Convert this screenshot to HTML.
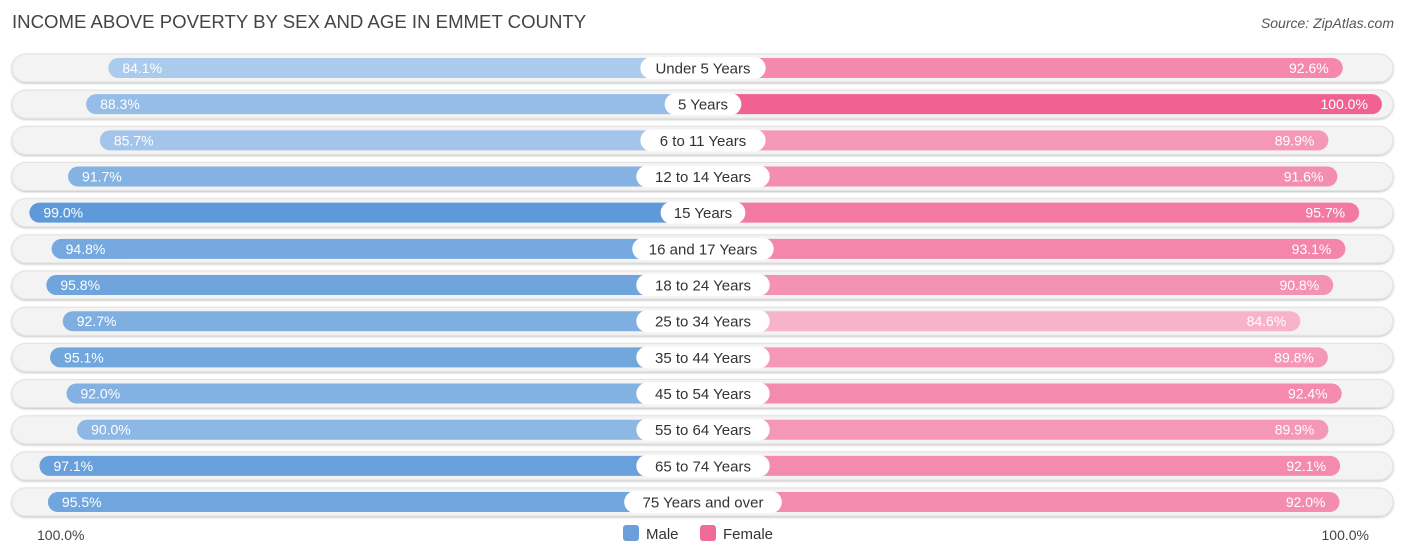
<!DOCTYPE html>
<html><head><meta charset="utf-8"><style>
body{margin:0;width:1406px;height:559px;background:#fff;font-family:"Liberation Sans",sans-serif;position:relative;overflow:hidden}
.t{position:absolute;white-space:nowrap}
</style></head><body>
<div class="t" style="left:12px;top:11px;font-size:18.6px;color:#444">INCOME ABOVE POVERTY BY SEX AND AGE IN EMMET COUNTY</div>
<div class="t" style="right:12px;top:15px;font-size:14px;color:#555;font-style:italic">Source: ZipAtlas.com</div>
<svg id="c" width="1406" height="559" style="position:absolute;left:0;top:0;font-family:'Liberation Sans',sans-serif"></svg>
<script>
const categories=["Under 5 Years","5 Years","6 to 11 Years","12 to 14 Years","15 Years","16 and 17 Years","18 to 24 Years","25 to 34 Years","35 to 44 Years","45 to 54 Years","55 to 64 Years","65 to 74 Years","75 Years and over"];
const maleValues=[84.1,88.3,85.7,91.7,99.0,94.8,95.8,92.7,95.1,92.0,90.0,97.1,95.5];
const femaleValues=[92.6,100.0,89.9,91.6,95.7,93.1,90.8,84.6,89.8,92.4,89.9,92.1,92.0];
const axisLabels=["100.0%","100.0%"];
const svg=document.getElementById('c');const NS="http://www.w3.org/2000/svg";
const cx=703,k=5.3,v0=-28.1,y0=68,step=36.17;
function len(v){return (v-v0)*k}
function xL(v){return cx-len(v)}function xR(v){return cx+len(v)}
function mix(a,b,t){t=Math.max(0,Math.min(1,t));return 'rgb('+a.map((c,i)=>Math.round(c+(b[i]-c)*t)).join(',')+')'}
function mk(tag,attrs,parent){const e=document.createElementNS(NS,tag);for(const a in attrs)e.setAttribute(a,attrs[a]);(parent||svg).appendChild(e);return e}
const defs=mk('defs',{});
const f=mk('filter',{id:'sh',x:'-5%',y:'-30%',width:'110%',height:'160%'},defs);
mk('feDropShadow',{dx:0,dy:1,stdDeviation:1,'flood-color':'#000','flood-opacity':0.25},f);
categories.forEach((cat,i)=>{
 const y=y0+i*step;
 const bg=mk('rect',{x:12,y:y-14,width:1381,height:28,rx:14,fill:'#f3f3f3',stroke:'#e2e2e2','stroke-width':1,filter:'url(#sh)'});
 
 const m=maleValues[i],fv=femaleValues[i];
 const mb=mk('rect',{x:xL(m),y:y-10,width:len(m),height:20,rx:10,fill:mix([172,203,237],[94,154,217],(m-84)/15)});
 
 const fb=mk('rect',{x:cx,y:y-10,width:len(fv),height:20,rx:10,fill:mix([247,182,204],[241,98,146],(fv-84)/16)});
 
 const ml=mk('text',{x:xL(m)+14,y:y+5,'font-size':14,fill:'#fff'});ml.textContent=m.toFixed(1)+'%';
 
 const fl=mk('text',{x:xR(fv)-14,y:y+5,'font-size':14,fill:'#fff','text-anchor':'end'});fl.textContent=fv.toFixed(1)+'%';
 
 const w=cat.length*8.1+20;
 const pill=mk('rect',{x:cx-w/2,y:y-11,width:w,height:22,rx:11,fill:'#fff'});
 
 const cl=mk('text',{x:cx,y:y+5.5,'font-size':15,fill:'#333','text-anchor':'middle'});cl.textContent=cat;
 
});
const a1=mk('text',{x:37,y:540,'font-size':14,fill:'#444'});a1.textContent=axisLabels[0];

const a2=mk('text',{x:1369,y:540,'font-size':14,fill:'#444','text-anchor':'end'});a2.textContent=axisLabels[1];

const lm=mk('rect',{x:623,y:525,width:16,height:16,rx:3,fill:'#6a9fdb'});

const lmt=mk('text',{x:646,y:539,'font-size':15,fill:'#333'});lmt.textContent='Male';

const lf=mk('rect',{x:700,y:525,width:16,height:16,rx:3,fill:'#f06b98'});

const lft=mk('text',{x:723,y:539,'font-size':15,fill:'#333'});lft.textContent='Female';

</script>
</body></html>
